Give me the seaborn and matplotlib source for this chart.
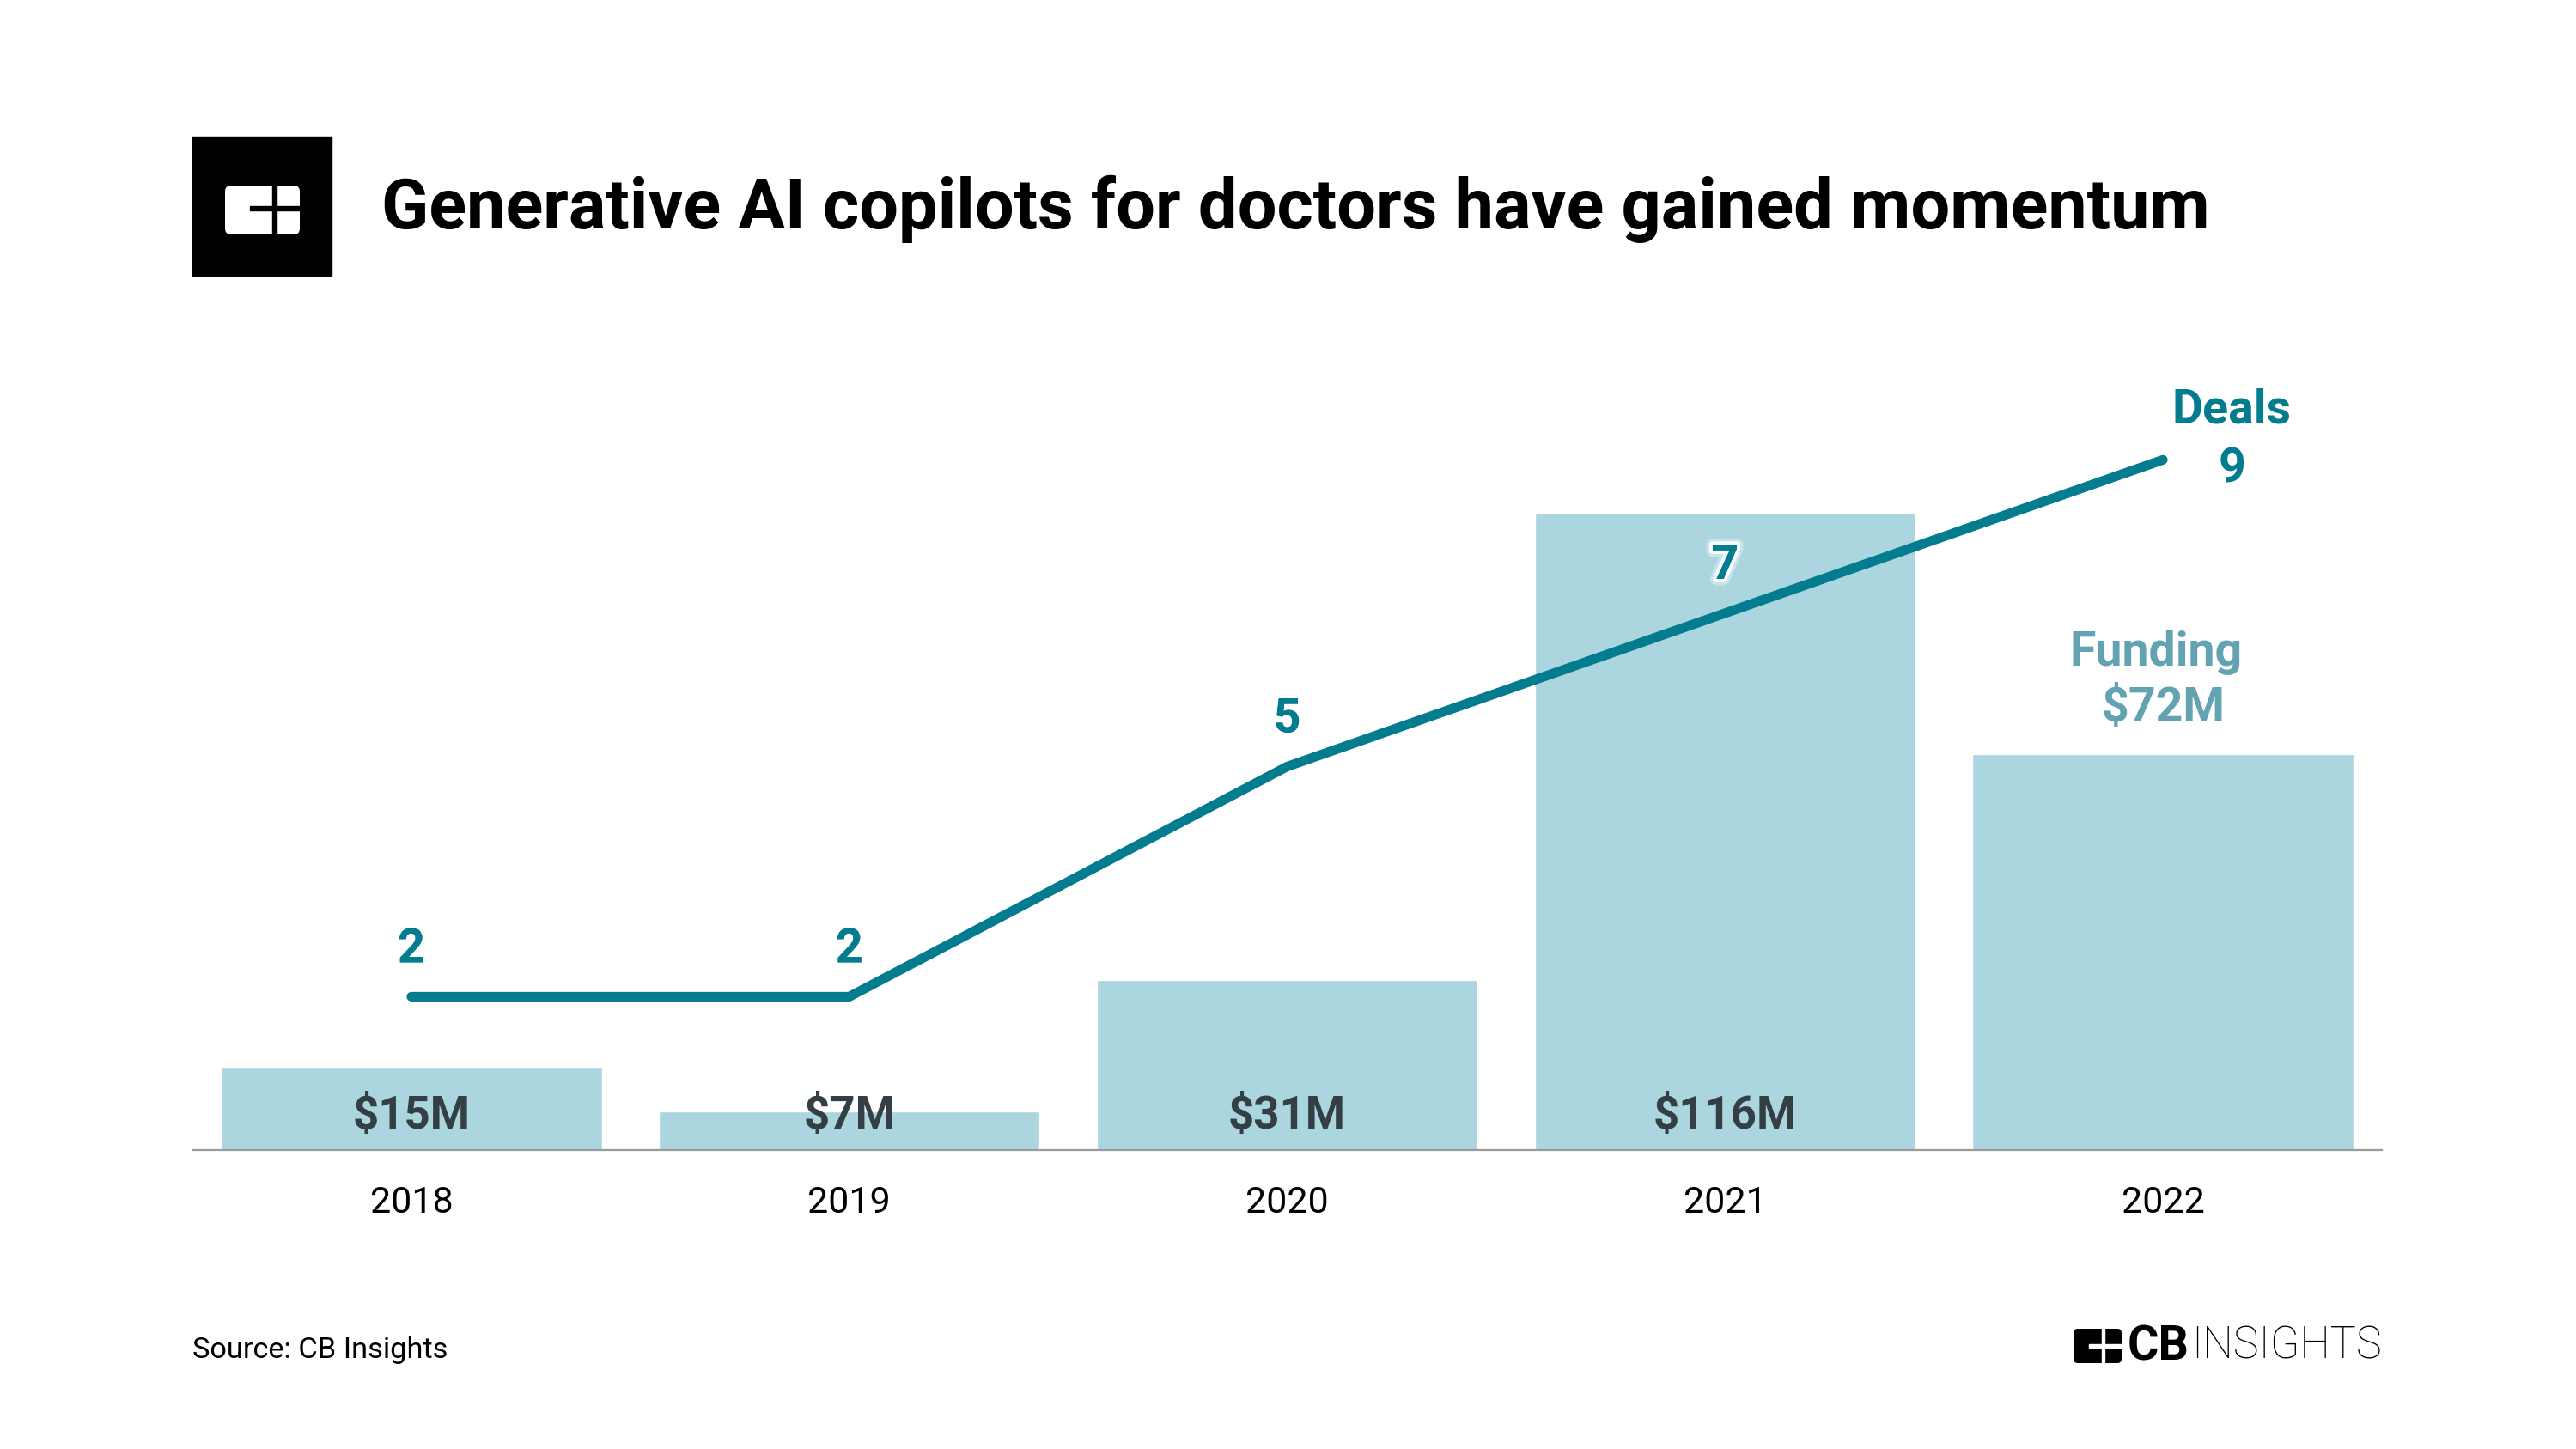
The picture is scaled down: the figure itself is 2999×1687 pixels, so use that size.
import numpy as np
import pandas as pd
import seaborn as sns
import matplotlib
matplotlib.use("Agg")
import matplotlib.pyplot as plt
from matplotlib.patches import Rectangle, FancyBboxPatch
import matplotlib.patheffects as pe

# ---------------- data ----------------
years = ["2018", "2019", "2020", "2021", "2022"]
funding = [15, 7, 31, 116, 72]          # $M
deals = [2, 2, 5, 7, 9]
funding_labels = ["$15M", "$7M", "$31M", "$116M", "$72M"]
title = "Generative AI copilots for doctors have gained momentum"
source = "Source: CB Insights"

# ---------------- style ----------------
BAR = "#ABD6DF"
LINE = "#027C8E"
FUND_TXT = "#63A3B1"
DARK = "#333F44"
GRAY = "#9a9a9a"

sns.set_theme(style="white")
plt.rcParams['font.family'] = ['Roboto', 'DejaVu Sans']

W, H = 2999, 1687
fig = plt.figure(figsize=(W / 100, H / 100), dpi=100)
fig.patch.set_facecolor("white")

base_y, top_y = 1339, 400
ax = fig.add_axes([224 / W, 1 - base_y / H, (2773 - 224) / W, (base_y - top_y) / H])
df = pd.DataFrame({"year": years, "funding": funding, "deals": deals})
sns.barplot(data=df, x="year", y="funding", color=BAR, saturation=1, width=0.87,
            ax=ax, zorder=1)
ax.set_xlim(-0.5, 4.5)
ax.set_ylim(0, (base_y - top_y) / 6.40)
for s in ["left", "right", "top"]:
    ax.spines[s].set_visible(False)
ax.spines["bottom"].set_color(GRAY)
ax.spines["bottom"].set_linewidth(1.6)
ax.set_yticks([])
ax.set_xlabel("")
ax.set_ylabel("")
ax.tick_params(axis="x", length=0, pad=44, labelsize=31, labelcolor="black")
for lab in ax.get_xticklabels():
    lab.set_verticalalignment("center")

ax2 = ax.twinx()
ax2.set_ylim(0, (base_y - top_y) / 89.3)
sns.lineplot(x=np.arange(len(years)), y=deals, ax=ax2, color=LINE, lw=8)
ln = ax2.lines[0]
ln.set_solid_capstyle("round")
ln.set_solid_joinstyle("miter")
for s in ax2.spines.values():
    s.set_visible(False)
ax2.set_yticks([])
ax2.set_ylabel("")
ax2.set_xlim(-0.5, 4.5)

glow = [pe.withStroke(linewidth=11, foreground="white", alpha=0.35),
        pe.withStroke(linewidth=6, foreground="white", alpha=0.9),
        pe.Normal()]

n = len(years)
for i in range(n - 1):
    ax2.annotate(str(deals[i]), (i, deals[i]), xytext=(0, 55), textcoords="offset pixels",
                 ha="center", va="center", color=LINE, fontsize=40, fontweight="bold",
                 path_effects=glow)
ax2.annotate("Deals", (n - 1, deals[-1]), xytext=(80, 58), textcoords="offset pixels",
             ha="center", va="center", color=LINE, fontsize=40, fontweight="bold")
ax2.annotate(str(deals[-1]), (n - 1, deals[-1]), xytext=(80, -11), textcoords="offset pixels",
             ha="center", va="center", color=LINE, fontsize=40, fontweight="bold")

for i in range(n - 1):
    ax.annotate(funding_labels[i], (i, 0), xytext=(0, 39), textcoords="offset pixels",
                ha="center", va="center", color=DARK, fontsize=38, fontweight="bold")
ax.annotate("Funding", (n - 1, funding[-1]), xytext=(-8, 118), textcoords="offset pixels",
            ha="center", va="center", color=FUND_TXT, fontsize=40, fontweight="bold")
ax.annotate(funding_labels[-1], (n - 1, funding[-1]), xytext=(0, 53), textcoords="offset pixels",
            ha="center", va="center", color=FUND_TXT, fontsize=40, fontweight="bold")

# ---------------- overlay (title, logos, source) ----------------
ov = fig.add_axes([0, 0, 1, 1], zorder=5)
ov.set_xlim(0, W)
ov.set_ylim(H, 0)
ov.axis("off")

renderer = fig.canvas.get_renderer()


def fit(t, width_px):
    w = t.get_window_extent(renderer).width
    t.set_fontsize(t.get_fontsize() * width_px / w)


t = ov.text(444, 243, title, fontsize=56, fontweight="bold", va="center", ha="left",
            color="black")
fit(t, 2130)

# top logo
ov.add_patch(Rectangle((224, 159), 162, 162, color="black"))
ov.add_patch(FancyBboxPatch((269, 223), 73, 43, boxstyle="round,pad=7",
                            fc="white", ec="none"))
ov.add_patch(Rectangle((317, 212), 5, 64, color="black"))
ov.add_patch(Rectangle((291, 240), 26, 5, color="black"))
ov.add_patch(Rectangle((322, 240), 30, 5, color="black"))

# source
t = ov.text(224, 1572, source, fontsize=24, va="center", ha="left", color="black")
fit(t, 298)

# bottom logo
ov.add_patch(FancyBboxPatch((2419, 1552), 46, 30, boxstyle="round,pad=5",
                            fc="black", ec="none"))
ov.add_patch(Rectangle((2447, 1545), 3.5, 44, color="white"))
ov.add_patch(Rectangle((2432, 1565), 15, 3.5, color="white"))
ov.add_patch(Rectangle((2450, 1565), 22, 3.5, color="white"))
t = ov.text(2477, 1568, "CB", fontsize=39, fontweight="bold", va="center", ha="left",
            color="black")
fit(t, 72)
t = ov.text(2551, 1568, "INSIGHTS", fontsize=39, fontweight="light", va="center",
            ha="left", color="black")
fit(t, 222)

fig.savefig("out.png", dpi=100, facecolor="white")
